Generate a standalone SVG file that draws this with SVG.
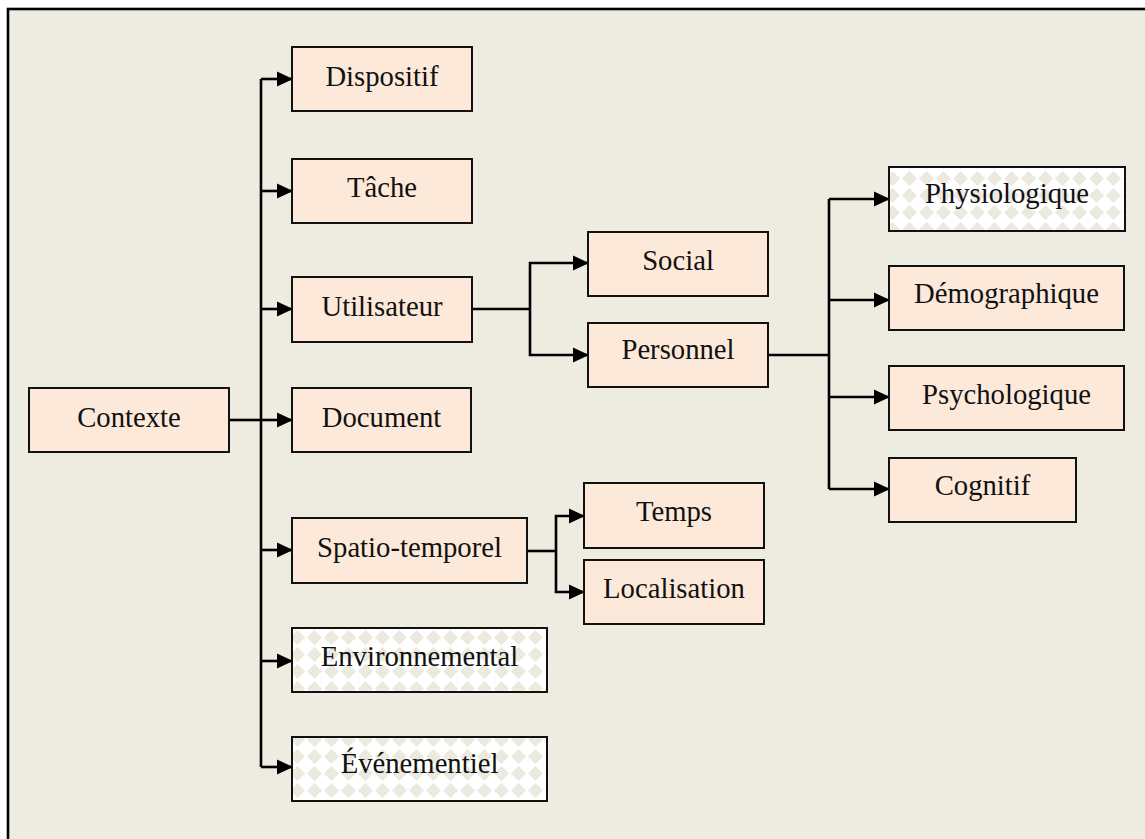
<svg xmlns="http://www.w3.org/2000/svg" width="1145" height="839" viewBox="0 0 1145 839">
  <defs>
    <style>
      .box { fill: #FDE9D9; stroke: #111; stroke-width: 2; }
      .chk { fill: url(#diamonds); stroke: #111; stroke-width: 2; }
      .lbl { font-family: "Liberation Serif", "Times New Roman", serif; font-size: 28.7px; fill: #111; text-anchor: middle; }
      .wire { fill: none; stroke: #000; stroke-width: 2.6; }
      .arr { fill: none; stroke: #000; stroke-width: 2.6; marker-end: url(#head); }
    </style>
    <marker id="head" viewBox="0 0 16 16" refX="15" refY="8" markerWidth="16" markerHeight="16" markerUnits="userSpaceOnUse" orient="auto">
      <path d="M0,0.5 L16,8 L0,15.5 Z" fill="#000"/>
    </marker>
    <pattern id="diamonds" width="17" height="17" patternUnits="userSpaceOnUse">
      <rect width="17" height="17" fill="#FFFFFF"/>
      <polygon points="8.5,1 16,8.5 8.5,16 1,8.5" fill="#ECE9DF"/>
    </pattern>
  </defs>

  <rect x="0" y="0" width="1145" height="839" fill="#FFFFFF"/>
  <rect x="8" y="9" width="1150" height="850" fill="#EEEBE0" stroke="#000" stroke-width="2.6"/>

  <!-- connectors -->
  <g id="connectors">
    <!-- Contexte trunk -->
    <path class="wire" d="M229,420 H261"/>
    <path class="wire" d="M261,79 V767"/>
    <path class="arr" d="M261,79 H292"/>
    <path class="arr" d="M261,191 H292"/>
    <path class="arr" d="M261,309 H292"/>
    <path class="arr" d="M261,420 H292"/>
    <path class="arr" d="M261,550 H292"/>
    <path class="arr" d="M261,661 H292"/>
    <path class="arr" d="M261,767 H292"/>
    <!-- Utilisateur branch -->
    <path class="wire" d="M472,309 H530"/>
    <path class="arr" d="M530,309 V263 H588"/>
    <path class="arr" d="M530,309 V355 H588"/>
    <!-- Personnel branch -->
    <path class="wire" d="M768,355 H829"/>
    <path class="wire" d="M829,199 V489"/>
    <path class="arr" d="M829,199 H889"/>
    <path class="arr" d="M829,300 H889"/>
    <path class="arr" d="M829,397 H889"/>
    <path class="arr" d="M829,489 H889"/>
    <!-- Spatio-temporel branch -->
    <path class="wire" d="M527,551 H556"/>
    <path class="arr" d="M556,551 V516 H584"/>
    <path class="arr" d="M556,551 V592 H584"/>
  </g>

  <g id="contexte">
    <rect class="box" x="29" y="388" width="200" height="64"/>
    <text class="lbl" x="129" y="427">Contexte</text>
  </g>
  <g id="dispositif">
    <rect class="box" x="292" y="47" width="180" height="64"/>
    <text class="lbl" x="382" y="86">Dispositif</text>
  </g>
  <g id="tache">
    <rect class="box" x="292" y="159" width="180" height="64"/>
    <text class="lbl" x="382" y="197">Tâche</text>
  </g>
  <g id="utilisateur">
    <rect class="box" x="292" y="277" width="180" height="65"/>
    <text class="lbl" x="382" y="316">Utilisateur</text>
  </g>
  <g id="document">
    <rect class="box" x="292" y="388" width="179" height="64"/>
    <text class="lbl" x="381.5" y="427">Document</text>
  </g>
  <g id="spatio-temporel">
    <rect class="box" x="292" y="518" width="235" height="65"/>
    <text class="lbl" x="409.5" y="557">Spatio-temporel</text>
  </g>
  <g id="environnemental">
    <rect class="chk" x="292" y="628" width="255" height="64"/>
    <text class="lbl" x="419.5" y="666">Environnemental</text>
  </g>
  <g id="evenementiel">
    <rect class="chk" x="292" y="737" width="255" height="64"/>
    <text class="lbl" x="419.5" y="773">Événementiel</text>
  </g>
  <g id="social">
    <rect class="box" x="588" y="232" width="180" height="64"/>
    <text class="lbl" x="678" y="270">Social</text>
  </g>
  <g id="personnel">
    <rect class="box" x="588" y="323" width="180" height="64"/>
    <text class="lbl" x="678" y="359">Personnel</text>
  </g>
  <g id="temps">
    <rect class="box" x="584" y="483" width="180" height="65"/>
    <text class="lbl" x="674" y="521">Temps</text>
  </g>
  <g id="localisation">
    <rect class="box" x="584" y="560" width="180" height="64"/>
    <text class="lbl" x="674" y="598">Localisation</text>
  </g>
  <g id="physiologique">
    <rect class="chk" x="889" y="167" width="236" height="64"/>
    <text class="lbl" x="1007" y="203">Physiologique</text>
  </g>
  <g id="demographique">
    <rect class="box" x="889" y="266" width="235" height="64"/>
    <text class="lbl" x="1006.5" y="303">Démographique</text>
  </g>
  <g id="psychologique">
    <rect class="box" x="889" y="366" width="235" height="64"/>
    <text class="lbl" x="1006.5" y="404">Psychologique</text>
  </g>
  <g id="cognitif">
    <rect class="box" x="889" y="458" width="187" height="64"/>
    <text class="lbl" x="982.5" y="495">Cognitif</text>
  </g>
</svg>
